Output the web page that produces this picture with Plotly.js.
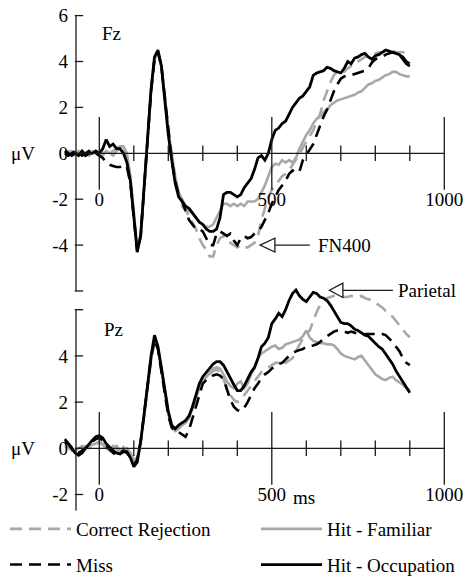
<!DOCTYPE html>
<html><head><meta charset="utf-8">
<script src="https://cdn.plot.ly/plotly-3.0.1.min.js"></script>
<style>html,body{margin:0;padding:0;background:#fff}</style>
</head><body><div id="chart" style="width:473px;height:579px"></div>
<script>
// ---------- DATA ----------
const times = [-100,-90,-80,-70,-60,-50,-40,-30,-20,-10,
  0,10,20,30,40,50,60,70,80,90,
  100,110,120,130,140,150,160,170,180,190,
  200,210,220,230,240,250,260,270,280,290,
  300,310,320,330,340,350,360,370,380,390,
  400,410,420,430,440,450,460,470,480,490,
  500,510,520,530,540,550,560,570,580,590,
  600,610,620,630,640,650,660,670,680,690,
  700,710,720,730,740,750,760,770,780,790,
  800,810,820,830,840,850,860,870,880,890,
  900];

const seriesNames = ["Correct Rejection", "Hit - Familiar", "Miss", "Hit - Occupation"];

const fzCorrectRejection = [0.0,0.1,0.0,-0.1,0.0,0.1,0.0,-0.1,0.0,0.1,
  -0.1,0.0,0.1,0.0,-0.1,0.1,0.2,0.3,-0.1,-1.1,
  -2.7,-4.2,-3.5,-1.4,0.8,2.7,4.1,4.4,3.8,2.4,
  0.9,-0.2,-1.2,-1.9,-2.3,-2.5,-2.7,-3.0,-3.3,-3.7,
  -4.0,-4.2,-4.5,-4.5,-4.0,-3.7,-3.6,-3.8,-3.9,-4.0,
  -4.1,-4.0,-4.1,-4.1,-4.0,-3.9,-3.6,-2.9,-2.4,-1.9,
  -1.6,-1.4,-1.2,-1.0,-0.9,-0.75,-0.5,-0.3,-0.05,0.25,
  0.5,0.75,1.0,1.4,1.7,2.3,2.7,3.1,3.4,3.6,
  3.6,3.55,3.7,3.8,3.9,4.0,4.1,4.2,4.25,4.3,
  4.35,4.4,4.4,4.45,4.5,4.45,4.4,4.4,4.4,4.35,
  4.35];
const fzHitFamiliar = [0.1,0.0,0.1,0.0,0.1,0.0,-0.1,0.0,0.1,0.0,
  0.0,-0.1,0.1,0.0,0.1,0.2,0.3,0.3,0.0,-1.0,
  -2.6,-4.1,-3.5,-1.4,0.8,2.7,4.1,4.4,3.8,2.5,
  1.0,0.0,-1.0,-1.7,-2.0,-2.3,-2.5,-2.6,-2.8,-3.0,
  -3.1,-3.2,-3.2,-3.1,-2.8,-2.5,-2.2,-2.2,-2.3,-2.2,
  -2.3,-2.2,-2.3,-2.1,-2.1,-2.1,-2.0,-1.7,-1.4,-1.0,
  -0.6,-0.45,-0.5,-0.3,-0.4,-0.3,-0.4,-0.2,0.2,0.5,
  0.8,1.0,1.3,1.5,1.6,1.8,1.9,2.1,2.2,2.3,
  2.35,2.4,2.45,2.5,2.55,2.65,2.7,2.85,3.0,3.05,
  3.15,3.2,3.3,3.4,3.45,3.55,3.55,3.45,3.4,3.35,
  3.35];
const fzMiss = [0.0,-0.1,0.0,0.1,0.0,-0.1,0.0,0.1,-0.1,0.0,
  -0.1,-0.2,-0.4,-0.5,-0.55,-0.6,-0.6,-0.5,-0.6,-1.3,
  -2.8,-4.3,-3.6,-1.5,0.7,2.7,4.1,4.4,3.8,2.4,
  0.8,-0.3,-1.2,-1.8,-2.1,-2.5,-2.9,-3.1,-3.3,-3.3,
  -3.4,-3.7,-4.0,-4.0,-3.5,-3.4,-3.5,-3.6,-3.5,-3.8,
  -4.0,-3.7,-3.6,-3.7,-3.65,-3.5,-3.4,-3.2,-2.9,-2.6,
  -2.2,-1.9,-1.6,-1.4,-1.2,-0.9,-0.75,-0.85,-0.8,-0.3,
  -0.05,0.2,0.4,0.8,1.2,1.6,1.9,2.3,2.7,3.0,
  3.25,3.35,3.4,3.4,3.45,3.5,3.55,3.6,3.7,3.95,
  4.1,4.15,4.2,4.3,4.35,4.4,4.4,4.3,4.2,4.0,
  3.9];
const fzHitOccupation = [0.1,0.0,-0.1,0.0,-0.1,0.1,-0.1,0.0,0.0,0.1,
  0.0,0.2,0.6,0.3,0.4,0.2,0.2,0.0,-0.4,-1.2,
  -2.6,-4.3,-3.6,-1.5,0.8,2.8,4.2,4.5,3.8,2.3,
  0.8,-0.3,-1.3,-1.9,-2.1,-2.3,-2.4,-2.6,-2.8,-3.0,
  -3.1,-3.3,-3.4,-3.4,-3.3,-2.8,-1.8,-1.7,-1.7,-1.8,
  -1.9,-1.8,-1.5,-1.3,-1.1,-0.7,-0.2,-0.1,-0.3,0.0,
  0.6,1.0,1.1,1.3,1.4,1.7,2.0,2.2,2.4,2.5,
  2.7,2.9,3.4,3.5,3.55,3.6,3.75,3.7,3.6,3.55,
  3.5,3.7,4.0,3.9,4.15,4.2,4.3,4.35,4.2,4.1,
  4.25,4.3,4.4,4.5,4.45,4.4,4.35,4.3,4.1,3.9,
  3.8];

const pzCorrectRejection = [0.2,0.1,0.0,-0.1,-0.1,0.0,0.1,0.0,0.1,0.2,
  0.3,0.2,0.0,-0.1,-0.05,0.1,-0.1,-0.2,0.0,-0.2,
  -0.6,-0.4,0.3,1.4,2.7,3.9,4.7,4.3,3.4,2.4,
  1.5,0.9,0.8,0.9,1.0,1.2,1.4,1.8,2.2,2.6,
  2.85,3.05,3.2,3.35,3.4,3.3,3.0,2.6,2.3,2.1,
  2.0,2.1,2.3,2.5,2.7,2.9,3.1,3.3,3.4,3.5,
  3.6,3.7,3.7,3.6,3.7,3.8,3.9,4.2,4.5,4.75,
  4.95,5.1,5.5,5.9,6.2,6.3,6.5,6.55,6.6,6.65,
  6.6,6.55,6.55,6.6,6.55,6.55,6.6,6.5,6.45,6.4,
  6.3,6.2,6.1,5.95,5.8,5.7,5.5,5.3,5.1,4.95,
  4.8];
const pzHitFamiliar = [0.1,0.05,-0.1,-0.1,0.0,0.1,0.05,0.1,0.15,0.2,
  0.25,0.15,0.0,-0.1,0.1,0.0,-0.2,0.05,-0.1,-0.2,
  -0.5,-0.4,0.3,1.4,2.7,3.8,4.6,4.3,3.4,2.4,
  1.5,0.9,0.75,0.85,1.0,1.1,1.3,1.7,2.2,2.6,
  2.9,3.1,3.3,3.45,3.5,3.45,3.2,2.9,2.7,2.6,
  2.8,2.9,2.6,2.8,3.2,3.5,3.9,4.1,4.2,4.3,
  4.4,4.45,4.3,4.35,4.5,4.55,4.6,4.65,4.7,4.85,
  5.1,4.8,4.65,4.6,4.55,4.55,4.5,4.5,4.45,4.3,
  4.1,4.0,3.95,3.9,3.85,3.95,4.0,3.8,3.6,3.4,
  3.2,3.1,3.0,2.95,3.05,3.1,2.95,2.85,2.75,2.6,
  2.5];
const pzMiss = [0.4,0.2,0.0,-0.15,-0.2,-0.1,0.0,0.15,0.3,0.4,
  0.45,0.35,0.1,-0.05,-0.2,-0.3,-0.2,-0.1,-0.2,-0.4,
  -0.7,-0.5,0.3,1.4,2.7,3.9,4.7,4.3,3.3,2.3,
  1.4,0.9,0.7,0.7,0.6,0.5,0.8,1.3,1.9,2.4,
  2.8,2.95,3.05,3.15,3.2,3.15,3.0,2.5,2.1,1.8,
  1.65,1.6,1.75,2.0,2.3,2.6,2.8,3.05,3.2,3.3,
  3.45,3.55,3.65,3.7,3.85,4.0,4.1,4.2,4.25,4.3,
  4.4,4.42,4.45,4.5,4.6,4.75,4.85,4.95,5.05,5.1,
  5.1,5.05,5.0,5.05,5.0,4.95,4.9,4.95,4.95,4.95,
  4.95,4.95,4.95,4.9,4.75,4.6,4.4,4.2,3.9,3.7,
  3.6];
const pzHitOccupation = [0.3,0.2,0.0,-0.2,-0.3,-0.2,0.0,0.2,0.35,0.5,
  0.55,0.45,0.2,0.05,-0.1,-0.2,-0.25,-0.15,-0.15,-0.4,
  -0.8,-0.6,0.3,1.5,2.8,4.0,4.9,4.4,3.5,2.5,
  1.6,1.0,0.85,1.0,1.1,1.2,1.4,1.8,2.3,2.8,
  3.1,3.3,3.5,3.65,3.75,3.75,3.6,3.3,3.0,2.75,
  2.5,2.5,2.7,3.0,3.3,3.5,3.9,4.4,4.55,4.8,
  5.4,5.6,5.85,5.7,6.0,6.4,6.7,6.85,6.6,6.45,
  6.35,6.55,6.75,6.7,6.55,6.5,6.4,6.2,5.95,5.65,
  5.45,5.4,5.4,5.3,5.15,5.1,5.0,4.9,4.85,4.7,
  4.55,4.4,4.3,4.1,3.9,3.65,3.35,3.1,2.85,2.6,
  2.4];

const xMajorTicks = [0, 500, 1000];
const xMajorLabels = ["0", "500", "1000"];
const xMinorTicks = [100, 200, 300, 400, 600, 700, 800, 900];
const fzYTicks = [-6, -4, -2, 0, 2, 4, 6];
const fzYLabels = ["", "-4", "-2", "0", "2", "4", "6"];
const pzYTicks = [-2, 0, 2, 4, 6];
const pzYLabels = ["-2", "0", "2", "4", ""];

// ---------- LAYOUT GEOMETRY ----------
const W = 473, H = 579;
const PX0 = 99.3, PXMS = 0.345;           // pixel of 0 ms, px per ms
const xRange = [(0 - PX0) / PXMS, (W - PX0) / PXMS];
const yAxisPx = 76;
const yAxisMs = (yAxisPx - PX0) / PXMS;
const fzPx0 = 153.3, fzPxPerUV = 22.95;
const pzPx0 = 448.3, pzPxPerUV = 23.1;
const fzRange = [-6, 6];                  // visible axis extent
const pzAxis = [-2.7, 6];                 // visible axis extent
const pzRange = [-2.7, 7.6];              // plotting extent (curves rise above the axis)
const domOf = (px0, k, rng) => [1 - (px0 - k * rng[0]) / H, 1 - (px0 - k * rng[1]) / H];
const fzDom = domOf(fzPx0, fzPxPerUV, fzRange);
const pzDom = domOf(pzPx0, pzPxPerUV, pzRange);
const zeroFrac = (px0) => 1 - px0 / H;
const FONT = "Liberation Serif, Times New Roman, serif";
const INK = "#1a1a1a";
const GRAY = "#a8a8a8";
const CLEAR = "rgba(0,0,0,0)";

const styles = [
  {color: GRAY, dash: "12px,7px", width: 2.6},
  {color: GRAY, dash: "solid", width: 2.6},
  {color: "#000", dash: "12px,7px", width: 2.6},
  {color: "#000", dash: "solid", width: 2.8}
];
const legendOf = ["legend", "legend2", "legend", "legend2"];
const fzData = [fzCorrectRejection, fzHitFamiliar, fzMiss, fzHitOccupation];
const pzData = [pzCorrectRejection, pzHitFamiliar, pzMiss, pzHitOccupation];

const traces = [];
fzData.forEach((d, i) => traces.push({
  type: "scatter", mode: "lines", x: times, y: d, xaxis: "x", yaxis: "y",
  name: seriesNames[i], line: Object.assign({}, styles[i]), showlegend: true, legend: legendOf[i],
  legendgroup: "g" + i, hoverinfo: "skip"
}));
pzData.forEach((d, i) => traces.push({
  type: "scatter", mode: "lines", x: times, y: d, xaxis: "x2", yaxis: "y2",
  name: seriesNames[i], line: Object.assign({}, styles[i]), showlegend: false, hoverinfo: "skip"
}));

// tick marks as line markers placed on the data scales
function tickTrace(xs, ys, xa, ya, symbol, size) {
  return {type: "scatter", mode: "markers", x: xs, y: ys, xaxis: xa, yaxis: ya,
    marker: {symbol: symbol, size: size, color: INK, line: {color: INK, width: 1.3}},
    cliponaxis: false, showlegend: false, hoverinfo: "skip"};
}
const yTickOffsetMs = 3 / PXMS;           // inward ticks: 6 px long, starting at the y axis
[["x", "y"], ["x2", "y2"]].forEach(([xa, ya]) => {
  traces.push(tickTrace(xMajorTicks, xMajorTicks.map(() => 0), xa, ya, "line-ns-open", 52));
  traces.push(tickTrace(xMinorTicks, xMinorTicks.map(() => 0), xa, ya, "line-ns-open", 11));
});
traces.push(tickTrace(fzYTicks.map(() => yAxisMs + yTickOffsetMs), fzYTicks, "x", "y", "line-ew-open", 6));
traces.push(tickTrace(pzYTicks.map(() => yAxisMs + yTickOffsetMs), pzYTicks, "x2", "y2", "line-ew-open", 6));

// carriers for the label axes (each sits on the bottom edge of a thin helper y axis at 0 µV)
[["x3","y3"],["x4","y4"]].forEach(p => traces.push({
  type: "scatter", mode: "lines", x: [], y: [], xaxis: p[0], yaxis: p[1], showlegend: false, hoverinfo: "skip"
}));

const tickFont = {family: FONT, size: 19, color: "#000"};
function dataX(anchor) {
  return {domain: [0, 1], range: xRange, anchor: anchor, visible: false, fixedrange: true};
}
function labelX(anchor) {
  return {
    domain: [0, 1], anchor: anchor, side: "bottom", range: xRange,
    showline: false, zeroline: false, showgrid: false,
    ticks: "outside", ticklen: 26, tickwidth: 1, tickcolor: CLEAR,
    tickmode: "array", tickvals: xMajorTicks, ticktext: xMajorLabels,
    showticklabels: true, tickfont: tickFont, ticklabelstandoff: 3,
    fixedrange: true
  };
}
function helperY(px0, anchor) {
  const f = zeroFrac(px0);
  return {domain: [f, f + 0.02], range: [0, 1], visible: false, fixedrange: true, anchor: anchor};
}
function yAx(dom, rng, vals, txt) {
  return {
    domain: dom, range: rng, anchor: "free", position: yAxisPx / W,
    showline: false, zeroline: false, showgrid: false,
    ticks: "inside", ticklen: 6, tickwidth: 1, tickcolor: CLEAR,
    tickmode: "array", tickvals: vals, ticktext: txt, tickfont: tickFont,
    ticklabelstandoff: 8, fixedrange: true
  };
}

const axLine = {color: INK, width: 1.3};
const lab = {family: FONT, size: 19, color: "#000"};
const legFont = {family: FONT, size: 19, color: "#000"};
const legBase = {
  orientation: "v", xanchor: "left", y: 1 - 510 / H, yanchor: "top",
  itemwidth: 61, font: legFont, bgcolor: CLEAR, tracegroupgap: 8,
  traceorder: "grouped", itemclick: false, itemdoubleclick: false
};

const layout = {
  width: W, height: H, margin: {l: 0, r: 0, t: 0, b: 0, autoexpand: false},
  paper_bgcolor: "#fff", plot_bgcolor: CLEAR,
  xaxis: dataX("y"), xaxis2: dataX("y2"),
  xaxis3: labelX("y3"), xaxis4: labelX("y4"),
  yaxis: yAx(fzDom, fzRange, fzYTicks, fzYLabels),
  yaxis2: yAx(pzDom, pzRange, pzYTicks, pzYLabels),
  yaxis3: helperY(fzPx0, "x3"),
  yaxis4: helperY(pzPx0, "x4"),
  showlegend: true,
  legend: Object.assign({}, legBase, {x: 5 / W}),
  legend2: Object.assign({}, legBase, {x: 256 / W}),
  shapes: [
    // axis lines
    {type: "line", xref: "x", yref: "y", x0: yAxisMs, x1: 1000, y0: 0, y1: 0, line: axLine},
    {type: "line", xref: "x2", yref: "y2", x0: yAxisMs, x1: 1000, y0: 0, y1: 0, line: axLine},
    {type: "line", xref: "x", yref: "y", x0: yAxisMs, x1: yAxisMs, y0: fzRange[0], y1: fzRange[1], line: axLine},
    {type: "line", xref: "x2", yref: "y2", x0: yAxisMs, x1: yAxisMs, y0: pzAxis[0], y1: pzAxis[1], line: axLine},
    // FN400 arrow
    {type: "line", xref: "x", yref: "y", x0: 509, x1: 610, y0: -4.0, y1: -4.0, line: axLine},
    {type: "path", xref: "x", yref: "y", path: "M 466 -4.0 L 509 -3.7 L 509 -4.3 Z", fillcolor: "#fff", line: axLine},
    // Parietal arrow
    {type: "line", xref: "x2", yref: "y2", x0: 706, x1: 851, y0: 6.84, y1: 6.84, line: axLine},
    {type: "path", xref: "x2", yref: "y2", path: "M 667 6.84 L 706 7.15 L 706 6.53 Z", fillcolor: "#fff", line: axLine}
  ],
  annotations: [
    {xref: "x", yref: "y", x: -221, y: 0, text: "μV", showarrow: false, font: lab, xanchor: "center", yanchor: "middle"},
    {xref: "x2", yref: "y2", x: -221, y: 0, text: "μV", showarrow: false, font: lab, xanchor: "center", yanchor: "middle"},
    {xref: "x", yref: "y", x: 2, y: 5.2, text: "Fz", showarrow: false, font: lab, xanchor: "left", yanchor: "middle"},
    {xref: "x2", yref: "y2", x: 8, y: 5.16, text: "Pz", showarrow: false, font: lab, xanchor: "left", yanchor: "middle"},
    {xref: "x", yref: "y", x: 628, y: -4.0, text: "FN400", showarrow: false, font: lab, xanchor: "left", yanchor: "middle"},
    {xref: "x2", yref: "y2", x: 860, y: 6.84, text: "Parietal", showarrow: false, font: lab, xanchor: "left", yanchor: "middle"},
    {xref: "x2", yref: "paper", x: 556, y: 1 - 498 / H, text: "ms", showarrow: false, font: lab, xanchor: "left", yanchor: "middle"}
  ]
};

Plotly.newPlot("chart", traces, layout, {staticPlot: true, displayModeBar: false});
</script>
</body></html>
